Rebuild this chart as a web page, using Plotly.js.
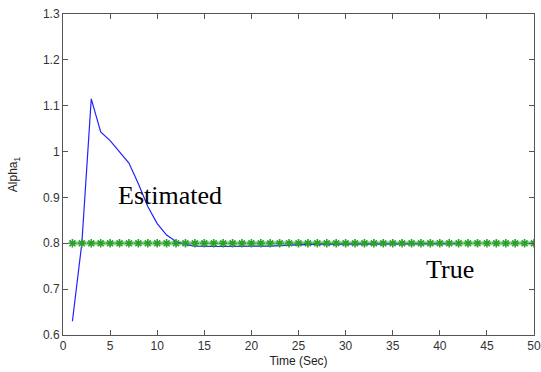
<!DOCTYPE html>
<html>
<head>
<meta charset="utf-8">
<script src="https://cdn.plot.ly/plotly-3.0.1.min.js"></script>
<style>html,body{margin:0;padding:0;background:#fff;}#chart{width:541px;height:372px;}</style>
</head>
<body>
<div id="chart"></div>
<script>
const timeEst = [1,2,3,4,5,6,7,8,9,10,11,12,13,14,15,16,17,18,19,20,21,22,23,24,25,26,27,28,29,30,31,32,33,34,35,36,37,38,39,40,41,42];
const alphaEst = [0.63,0.80,1.115,1.043,1.024,1.0,0.975,0.93,0.88,0.843,0.818,0.804,0.797,0.794,0.793,0.793,0.793,0.793,0.793,0.793,0.793,0.794,0.795,0.796,0.797,0.798,0.798,0.798,0.798,0.798,0.799,0.799,0.799,0.799,0.799,0.799,0.799,0.799,0.799,0.799,0.799,0.799];
const timeTrue = [1,2,3,4,5,6,7,8,9,10,11,12,13,14,15,16,17,18,19,20,21,22,23,24,25,26,27,28,29,30,31,32,33,34,35,36,37,38,39,40,41,42,43,44,45,46,47,48,49,50];
const alphaTrue = timeTrue.map(() => 0.8);
const xTicks = [0,5,10,15,20,25,30,35,40,45,50];
const yTicks = [0.6,0.7,0.8,0.9,1,1.1,1.2,1.3];
const yTickText = ['0.6','0.7','0.8','0.9','1','1.1','1.2','1.3'];

const traces = [
  {x: timeTrue, y: alphaTrue, mode: 'lines', line: {color: 'rgba(40,170,40,0.5)', width: 4}, hoverinfo: 'skip'},
  {x: timeEst, y: alphaEst, mode: 'lines', line: {color: '#2222ff', width: 1.2}},
  {x: timeTrue, y: alphaTrue, mode: 'markers', marker: {symbol: 'asterisk-open', size: 7, line: {color: '#006a00', width: 1.6}}}
];

const axisCommon = {
  showgrid: false, zeroline: false, showline: true, linecolor: '#555', linewidth: 1,
  mirror: 'ticks', ticks: 'inside', ticklen: 5, tickcolor: '#555', tickwidth: 1,
  tickfont: {family: 'Arial, Liberation Sans, sans-serif', size: 12, color: '#333'}
};

const layout = {
  width: 541, height: 372,
  margin: {l: 63, r: 7, t: 14, b: 37},
  paper_bgcolor: '#fff', plot_bgcolor: '#fff',
  showlegend: false,
  xaxis: Object.assign({}, axisCommon, {
    range: [0, 50], tickvals: xTicks, ticktext: xTicks.map(String),
    title: {text: 'Time (Sec)', font: {family: 'Arial, Liberation Sans, sans-serif', size: 12, color: '#222'}, standoff: 4}
  }),
  yaxis: Object.assign({}, axisCommon, {
    range: [0.6, 1.3], tickvals: yTicks, ticktext: yTickText,
    title: {text: 'Alpha<sub>1</sub>', font: {family: 'Arial, Liberation Sans, sans-serif', size: 12, color: '#222'}, standoff: 22}
  }),
  annotations: [
    {x: 11.4, y: 0.9035, xref: 'x', yref: 'y', text: 'Estimated', showarrow: false,
     font: {family: 'Liberation Serif, Times New Roman, serif', size: 26, color: '#000'}, xanchor: 'center', yanchor: 'middle'},
    {x: 41.1, y: 0.742, xref: 'x', yref: 'y', text: 'True', showarrow: false,
     font: {family: 'Liberation Serif, Times New Roman, serif', size: 26, color: '#000'}, xanchor: 'center', yanchor: 'middle'}
  ]
};

Plotly.newPlot('chart', traces, layout, {displayModeBar: false, staticPlot: true});
</script>
</body>
</html>
